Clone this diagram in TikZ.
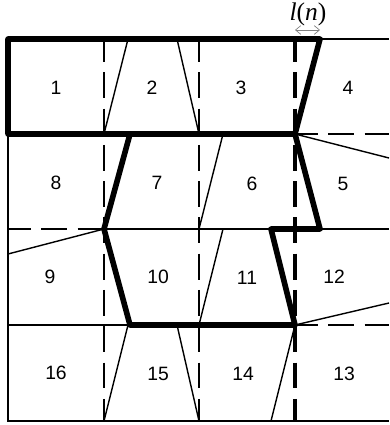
\documentclass[tikz,border=0pt]{standalone}
\usepackage{fontspec}
\setmainfont{Liberation Sans}
\newfontfamily\serifit{Liberation Serif}
\usetikzlibrary{arrows.meta}
\tikzset{
  thinline/.style={line width=0.8pt},
  heavyline/.style={line width=3.2pt, line join=round},
  cutline/.style={dash pattern=on 14.7pt off 5.95pt, dash phase=1.7pt},
  numlabel/.style={font=\fontsize{11}{13}\selectfont, inner sep=0pt},
}
\begin{document}
\begin{tikzpicture}[x=0.02cm, y=-0.02cm]
  \useasboundingbox (0,0) rectangle (389,425);
  % outer thin lines
  \draw[thinline] (320,39) -- (389,39);
  \draw[thinline] (8,134) -- (8,421) -- (389,421);
  \draw[thinline] (104,229) -- (271,229);
  \draw[thinline] (320,229) -- (389,229);
  \draw[thinline] (8,325) -- (130,325);
  % slanted cuts
  \draw[thinline] (104,134) -- (128,39);
  \draw[thinline] (177,39) -- (199,134);
  \draw[thinline] (223,134) -- (199,229);
  \draw[thinline] (295,134) -- (389,158);
  \draw[thinline] (8,254) -- (104,229);
  \draw[thinline] (223,229) -- (199,325);
  \draw[thinline] (295,325) -- (389,303);
  \draw[thinline] (128,325) -- (104,421);
  \draw[thinline] (177,325) -- (199,421);
  \draw[thinline] (295,325) -- (271,421);
  % dashed grid
  \draw[cutline, line width=1.7pt] (104,39) -- (104,421);
  \draw[cutline, line width=1.1pt] (199,39) -- (199,421);
  \draw[cutline, line width=1.8pt] (295,39) -- (295,421);
  \draw[cutline, line width=1.6pt] (295,134) -- (389,134);
  \draw[cutline, line width=1.6pt] (8,229) -- (104,229);
  \draw[cutline, line width=1.6pt] (295,325) -- (389,325);
  % heavy outlines
  \draw[heavyline] (8,39) -- (320,39) -- (295,134) -- (8,134) -- cycle;
  \draw[heavyline] (130,134) -- (104,229) -- (130,325) -- (295,325)
    -- (271,229) -- (320,229) -- (295,134);
  % cell numbers
  \foreach \px/\py/\num in {56/88/1, 152/88/2, 241/88/3, 348/88/4,
      56/183/8, 157/183/7, 252/184/6, 343/184/5,
      50/277/9, 158/277/10, 247/278/11, 334/277/12,
      56/373/16, 158/374/15, 243/374/14, 344/374/13} {
    \node[numlabel] (cell\num) at (\px,\py) {\num};
  }
  % width marker
  \coordinate (markl) at (295,30);
  \coordinate (markr) at (320,30);
  \draw[{Straight Barb[length=3pt,width=5pt]}-{Straight Barb[length=3pt,width=5pt]}, gray, line width=0.4pt] (markl) -- (markr);
  \node[font=\fontsize{14.5}{16}\selectfont\serifit, inner sep=0pt] (width) at (308,14) {\textit{l}(\textit{n})};
\end{tikzpicture}
\end{document}
